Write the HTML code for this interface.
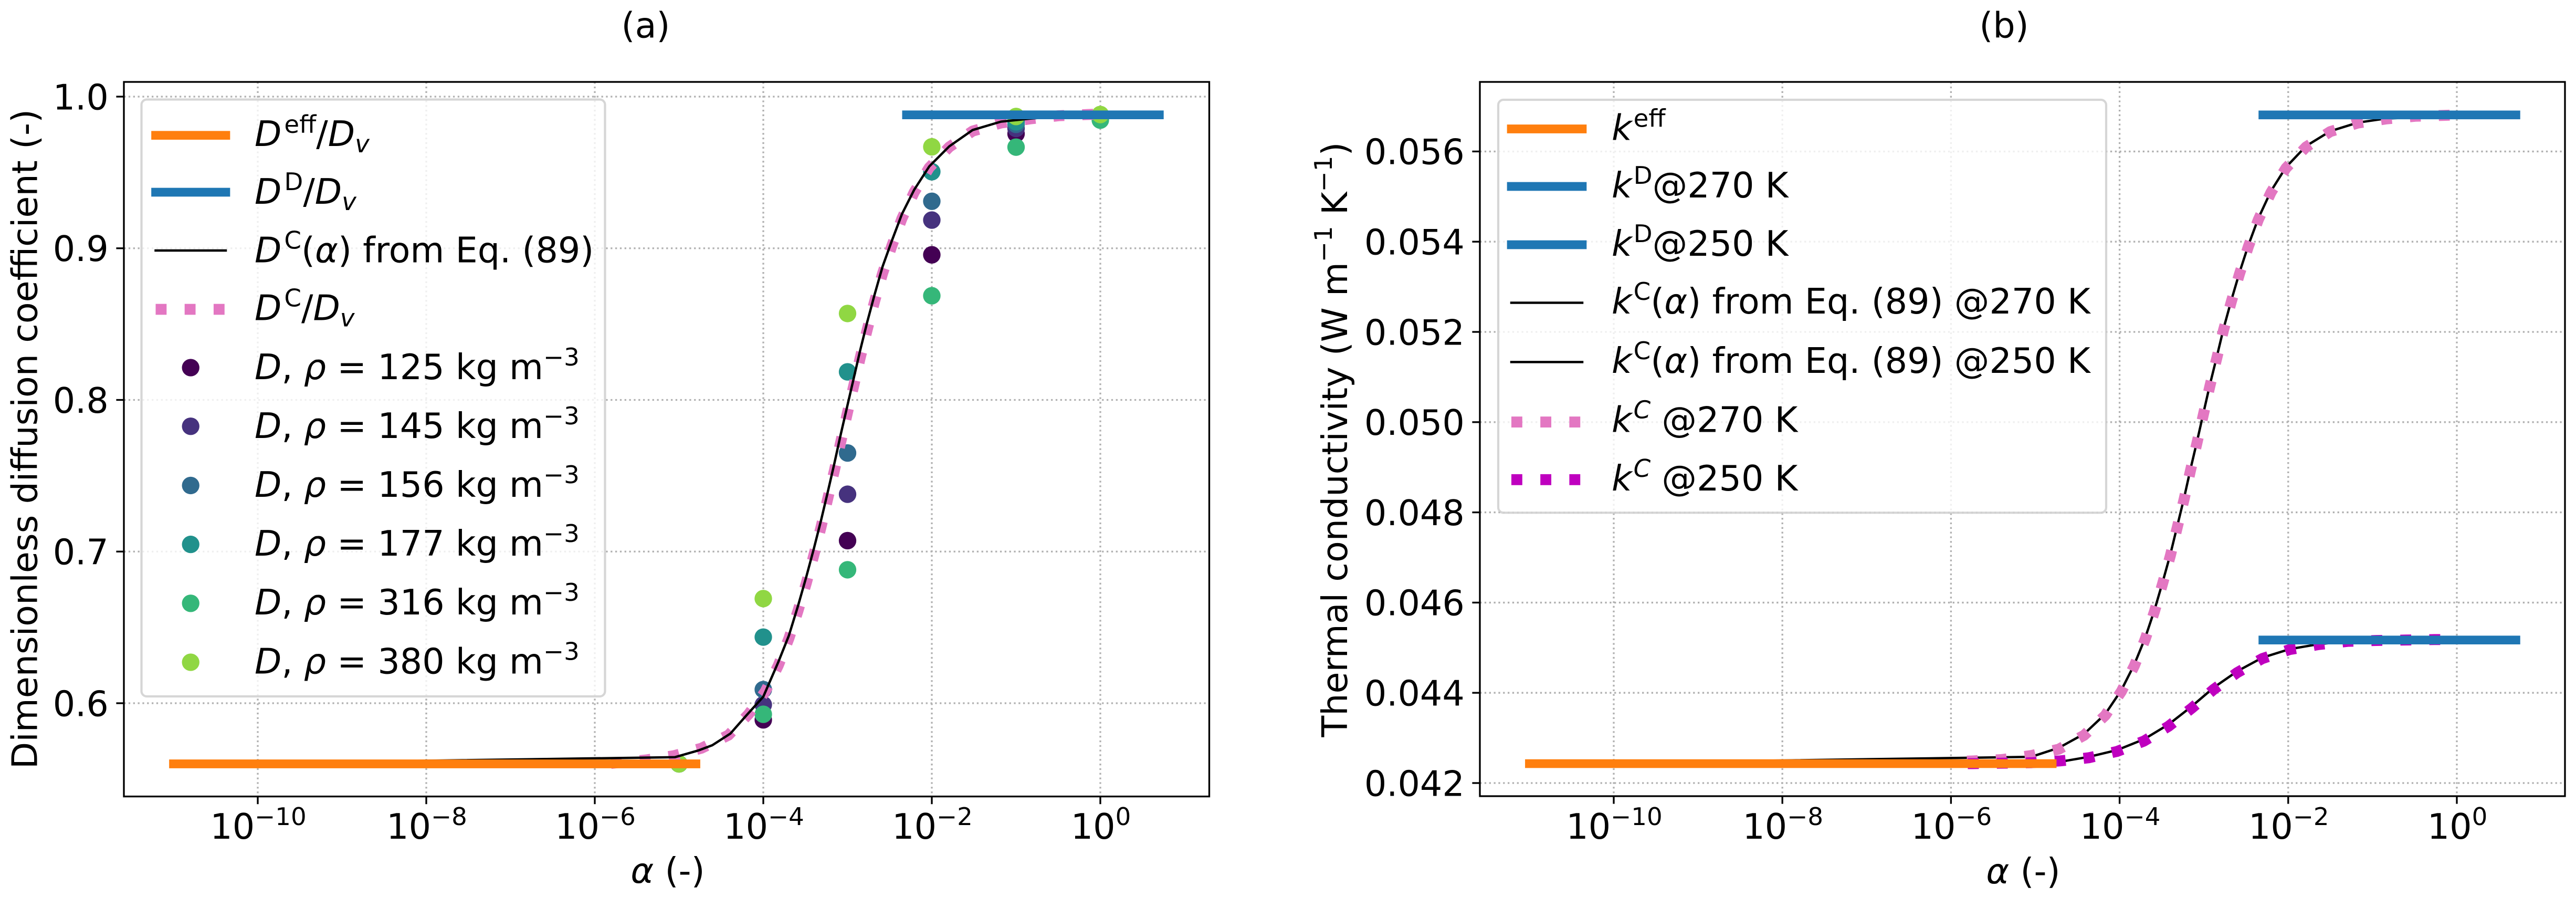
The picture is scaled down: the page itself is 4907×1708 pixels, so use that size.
<!DOCTYPE html>
<html lang="en">
<head>
<meta charset="utf-8">
<title>Diffusion coefficient and thermal conductivity versus alpha</title>
<style>
html,body{margin:0;padding:0;background:#fff;}
svg{display:block;}
text{font-family:"DejaVu Sans","Liberation Sans",sans-serif;font-size:66.7px;fill:#000;}
.i{font-style:italic;}
.s{font-size:46.7px;}
</style>
</head>
<body>
<svg id="figure" xmlns="http://www.w3.org/2000/svg" width="4907" height="1708" viewBox="0 0 4907 1708">
  <rect x="0" y="0" width="4907" height="1708" fill="#ffffff"/>

  <g id="panel-a">
    <text x="1230" y="71.5" text-anchor="middle">(a)</text>
    <g id="a-grid"></g>
    <g id="a-marks"></g>
    <g id="a-legend">
      <rect x="269.5" y="189.5" width="883" height="1136.5" rx="10" ry="10" fill="#ffffff" fill-opacity="0.8" stroke="#cccccc" stroke-opacity="0.8" stroke-width="4.2"/>
      <g>
        <line x1="296.5" x2="430" y1="257.7" y2="257.7" stroke="#ff7f0e" stroke-width="16.67" stroke-linecap="square"/>
        <text x="485" y="277.8"><tspan class="i">D</tspan><tspan class="s" dx="5" dy="-25">eff</tspan><tspan dy="25">/</tspan><tspan class="i">D</tspan><tspan class="s i" dy="12">v</tspan></text>
      </g>
      <g>
        <line x1="296.5" x2="430" y1="366" y2="366" stroke="#1f77b4" stroke-width="16.67" stroke-linecap="square"/>
        <text x="485" y="388"><tspan class="i">D</tspan><tspan class="s" dx="5" dy="-26">D</tspan><tspan dy="26">/</tspan><tspan class="i">D</tspan><tspan class="s i" dy="12">v</tspan></text>
      </g>
      <g>
        <line x1="296.5" x2="430" y1="477" y2="477" stroke="#000000" stroke-width="4.5" stroke-linecap="square"/>
        <text x="485" y="499.4"><tspan class="i">D</tspan><tspan class="s" dx="5" dy="-26">C</tspan><tspan dy="26">(</tspan><tspan class="i">α</tspan><tspan>) from Eq. (89)</tspan></text>
      </g>
      <g>
        <line x1="296.5" x2="430" y1="589" y2="589" stroke="#e377c2" stroke-width="20.83" stroke-dasharray="20.83 34.375"/>
        <text x="485" y="609.6"><tspan class="i">D</tspan><tspan class="s" dx="5" dy="-26">C</tspan><tspan dy="26">/</tspan><tspan class="i">D</tspan><tspan class="s i" dy="12">v</tspan></text>
      </g>
      <g>
        <circle cx="363.2" cy="700" r="16.67" fill="#440154"/>
        <text x="485" y="722"><tspan class="i">D</tspan><tspan>, </tspan><tspan class="i">ρ</tspan><tspan> = 125 kg m</tspan><tspan class="s" dy="-26">−3</tspan></text>
      </g>
      <g>
        <circle cx="363.2" cy="811.7" r="16.67" fill="#46327e"/>
        <text x="485" y="834"><tspan class="i">D</tspan><tspan>, </tspan><tspan class="i">ρ</tspan><tspan> = 145 kg m</tspan><tspan class="s" dy="-26">−3</tspan></text>
      </g>
      <g>
        <circle cx="363.2" cy="924.4" r="16.67" fill="#306a8e"/>
        <text x="485" y="945.8"><tspan class="i">D</tspan><tspan>, </tspan><tspan class="i">ρ</tspan><tspan> = 156 kg m</tspan><tspan class="s" dy="-26">−3</tspan></text>
      </g>
      <g>
        <circle cx="363.2" cy="1036.6" r="16.67" fill="#21918c"/>
        <text x="485" y="1058"><tspan class="i">D</tspan><tspan>, </tspan><tspan class="i">ρ</tspan><tspan> = 177 kg m</tspan><tspan class="s" dy="-26">−3</tspan></text>
      </g>
      <g>
        <circle cx="363.2" cy="1148.8" r="16.67" fill="#35b779"/>
        <text x="485" y="1170"><tspan class="i">D</tspan><tspan>, </tspan><tspan class="i">ρ</tspan><tspan> = 316 kg m</tspan><tspan class="s" dy="-26">−3</tspan></text>
      </g>
      <g>
        <circle cx="363.2" cy="1261" r="16.67" fill="#90d743"/>
        <text x="485" y="1282.4"><tspan class="i">D</tspan><tspan>, </tspan><tspan class="i">ρ</tspan><tspan> = 380 kg m</tspan><tspan class="s" dy="-26">−3</tspan></text>
      </g>
    </g>
    <g id="a-axes"></g>
    <text x="1272" y="1681" text-anchor="middle"><tspan class="i">α</tspan> (-)</text>
    <text text-anchor="middle" transform="translate(70.5 836) rotate(-90)">Dimensionless diffusion coefficient (-)</text>
  </g>

  <g id="panel-b">
    <text x="3817.5" y="71.5" text-anchor="middle">(b)</text>
    <g id="b-grid"></g>
    <g id="b-marks"></g>
    <g id="b-legend">
      <rect x="2854" y="190" width="1158" height="786.3" rx="10" ry="10" fill="#ffffff" fill-opacity="0.8" stroke="#cccccc" stroke-opacity="0.8" stroke-width="4.2"/>
      <g>
        <line x1="2879" x2="3014" y1="245.5" y2="245.5" stroke="#ff7f0e" stroke-width="16.67" stroke-linecap="square"/>
        <text x="3070" y="266.6"><tspan class="i">k</tspan><tspan class="s" dx="3" dy="-25">eff</tspan></text>
      </g>
      <g>
        <line x1="2879" x2="3014" y1="355" y2="355" stroke="#1f77b4" stroke-width="16.67" stroke-linecap="square"/>
        <text x="3070" y="376"><tspan class="i">k</tspan><tspan class="s" dx="3" dy="-26">D</tspan><tspan dy="26">@270 K</tspan></text>
      </g>
      <g>
        <line x1="2879" x2="3014" y1="466" y2="466" stroke="#1f77b4" stroke-width="16.67" stroke-linecap="square"/>
        <text x="3070" y="487"><tspan class="i">k</tspan><tspan class="s" dx="3" dy="-26">D</tspan><tspan dy="26">@250 K</tspan></text>
      </g>
      <g>
        <line x1="2879" x2="3014" y1="576.5" y2="576.5" stroke="#000000" stroke-width="4.5" stroke-linecap="square"/>
        <text x="3070" y="597"><tspan class="i">k</tspan><tspan class="s" dx="3" dy="-26">C</tspan><tspan dy="26">(</tspan><tspan class="i">α</tspan><tspan>) from Eq. (89) @270 K</tspan></text>
      </g>
      <g>
        <line x1="2879" x2="3014" y1="689.4" y2="689.4" stroke="#000000" stroke-width="4.5" stroke-linecap="square"/>
        <text x="3070" y="710"><tspan class="i">k</tspan><tspan class="s" dx="3" dy="-26">C</tspan><tspan dy="26">(</tspan><tspan class="i">α</tspan><tspan>) from Eq. (89) @250 K</tspan></text>
      </g>
      <g>
        <line x1="2879" x2="3014" y1="803.6" y2="803.6" stroke="#e377c2" stroke-width="20.83" stroke-dasharray="20.83 34.375"/>
        <text x="3070" y="822.7"><tspan class="i">k</tspan><tspan class="s i" dx="3" dy="-26">C</tspan><tspan dy="26"> @270 K</tspan></text>
      </g>
      <g>
        <line x1="2879" x2="3014" y1="913.3" y2="913.3" stroke="#bf00bf" stroke-width="20.83" stroke-dasharray="20.83 34.375"/>
        <text x="3070" y="934"><tspan class="i">k</tspan><tspan class="s i" dx="3" dy="-26">C</tspan><tspan dy="26"> @250 K</tspan></text>
      </g>
    </g>
    <g id="b-axes"></g>
    <text x="3854" y="1682" text-anchor="middle"><tspan class="i">α</tspan> (-)</text>
    <text text-anchor="middle" transform="translate(2566 837) rotate(-90)">Thermal conductivity (W m<tspan class="s" dy="-29">−1</tspan><tspan dy="29"> K</tspan><tspan class="s" dy="-29">−1</tspan><tspan dy="29">)</tspan></text>
  </g>
</svg>

<script>
// ---- shared x ticks (log10 of alpha) ----
const xTickExponents = [-10, -8, -6, -4, -2, 0];

// ---- panel (a) values ----
const aYTicks = [0.6, 0.7, 0.8, 0.9, 1.0];
const aYTickLabels = ['0.6', '0.7', '0.8', '0.9', '1.0'];
const aEffLogAlpha = [-11, -4.8];
const aEffValues = [0.56, 0.56];
const aDiluteLogAlpha = [-2.3, 0.7];
const aDiluteValues = [0.988, 0.988];
const aPinkLogAlpha = [-5.9, -5.39, -5.06, -4.735, -4.414, -4.176, -3.977, -3.823, -3.697, -3.589, -3.489, -3.402, -3.315, -3.236, -3.157, -3.082, -3.005, -2.928, -2.849, -2.766, -2.679, -2.584, -2.474, -2.355, -2.21, -2.03, -1.793, -1.515, -1.18, -0.835, -0.494, -0.152, 0];
const aPinkValues = [0.5598, 0.5626, 0.5654, 0.5703, 0.5789, 0.5927, 0.6077, 0.6248, 0.6426, 0.6608, 0.6793, 0.6973, 0.7161, 0.7347, 0.7533, 0.772, 0.7907, 0.8091, 0.828, 0.8465, 0.865, 0.8835, 0.9017, 0.9196, 0.9369, 0.9532, 0.9668, 0.9773, 0.9826, 0.9853, 0.9874, 0.9882, 0.9885];
const aFitLogAlpha = [-11, -5.05, -4.773, -4.605, -4.39, -4.2, -4.0, -3.823, -3.697, -3.589, -3.489, -3.402, -3.315, -3.236, -3.157, -3.082, -3.005, -2.928, -2.849, -2.766, -2.679, -2.584, -2.474, -2.355, -2.21, -2.03, -1.793, -1.515, -1.18, -0.835, -0.494, 0];
const aFitValues = [0.5597, 0.5644, 0.5688, 0.5723, 0.58, 0.592, 0.6043, 0.627, 0.6445, 0.664, 0.6835, 0.7015, 0.7205, 0.739, 0.758, 0.777, 0.7955, 0.814, 0.833, 0.8515, 0.8695, 0.888, 0.905, 0.9225, 0.9385, 0.954, 0.9672, 0.978, 0.9835, 0.9855, 0.987, 0.988];
const scatterLogAlpha = [-5, -4, -3, -2, -1, 0];
const rho125Values = [0.56, 0.589, 0.7072, 0.8957, 0.9755, 0.986];
const rho145Values = [0.56, 0.599, 0.7378, 0.9186, 0.979, 0.986];
const rho156Values = [0.56, 0.609, 0.765, 0.931, 0.9817, 0.986];
const rho177Values = [0.56, 0.6436, 0.8185, 0.9505, 0.9834, 0.986];
const rho316Values = [0.56, 0.5927, 0.688, 0.8687, 0.9667, 0.9845];
const rho380Values = [0.56, 0.669, 0.857, 0.9669, 0.9869, 0.9882];

// ---- panel (b) values ----
const bYTicks = [0.042, 0.044, 0.046, 0.048, 0.050, 0.052, 0.054, 0.056];
const bYTickLabels = ['0.042', '0.044', '0.046', '0.048', '0.050', '0.052', '0.054', '0.056'];
const bEffLogAlpha = [-11, -4.8];
const bEffValues = [0.04243, 0.04243];
const bDiluteLogAlpha = [-2.3, 0.7];
const bDilute270Values = [0.05681, 0.05681];
const bDilute250Values = [0.04517, 0.04517];
const b270LogAlpha = [-5.9, -5.743, -5.397, -5.047, -4.722, -4.42, -4.17, -3.979, -3.825, -3.696, -3.587, -3.49, -3.398, -3.317, -3.235, -3.159, -3.082, -3.006, -2.929, -2.847, -2.766, -2.675, -2.579, -2.473, -2.354, -2.205, -2.027, -1.788, -1.501, -1.174, -0.841, -0.494, -0.149, 0];
const b270Values = [0.04248, 0.04249, 0.04252, 0.04261, 0.04275, 0.04306, 0.0435, 0.04403, 0.0446, 0.04519, 0.0458, 0.04642, 0.04704, 0.04766, 0.04829, 0.04893, 0.04954, 0.05017, 0.0508, 0.05142, 0.05205, 0.05267, 0.05328, 0.05389, 0.05449, 0.05509, 0.05563, 0.0561, 0.05644, 0.05663, 0.05672, 0.05678, 0.0568, 0.05681];
const b250LogAlpha = [-5.9, -5.743, -5.397, -5.052, -4.707, -4.367, -4.031, -3.711, -3.418, -3.144, -2.881, -2.603, -2.306, -1.98, -1.635, -1.295, -0.954, -0.609, -0.268, 0];
const b250Values = [0.04243, 0.04243, 0.04244, 0.04245, 0.04249, 0.04256, 0.0427, 0.04293, 0.04326, 0.04366, 0.04408, 0.04445, 0.04476, 0.04496, 0.04507, 0.04514, 0.04516, 0.04517, 0.04518, 0.04518];
const bFit270LogAlpha = [-11, -5.05, -4.722, -4.42, -4.17, -3.979, -3.825, -3.696, -3.587, -3.49, -3.398, -3.317, -3.235, -3.159, -3.082, -3.006, -2.929, -2.847, -2.766, -2.675, -2.579, -2.473, -2.354, -2.205, -2.027, -1.788, -1.501, -1.174, -0.841, 0];
const bFit270Values = [0.04242, 0.04258, 0.04278, 0.04309, 0.04353, 0.04406, 0.04463, 0.04522, 0.04583, 0.04645, 0.04707, 0.04769, 0.04832, 0.04896, 0.04957, 0.0502, 0.05083, 0.05145, 0.05208, 0.0527, 0.05331, 0.05392, 0.05452, 0.05512, 0.05565, 0.05612, 0.05645, 0.05664, 0.05673, 0.0568];
const bFit250LogAlpha = [-11, -5.05, -4.707, -4.367, -4.031, -3.711, -3.418, -3.144, -2.881, -2.603, -2.306, -1.98, -1.635, -1.295, -0.954, 0];
const bFit250Values = [0.04242, 0.04245, 0.04247, 0.04258, 0.04273, 0.04297, 0.0433, 0.0437, 0.04412, 0.04448, 0.04478, 0.04497, 0.04508, 0.04514, 0.04516, 0.04518];

// ---- axis functions ----
const SVGNS = 'http://www.w3.org/2000/svg';
const aX = function (logAlpha) { return 2096 + 160.5 * logAlpha; };
const aY = function (v) { return 184 + (1 - v) * 2887.5; };
const bX = function (logAlpha) { return 4680 + 160.6 * logAlpha; };
const bY = function (v) { return 1491 - (v - 0.042) * 85900; };

function make(tag, parent) {
  const el = document.createElementNS(SVGNS, tag);
  parent.appendChild(el);
  return el;
}

function pointsOf(xs, ys, fx, fy) {
  return xs.map(function (x, i) { return fx(x).toFixed(2) + ',' + fy(ys[i]).toFixed(2); }).join(' ');
}

// Dash phase so a dash is centred on a curve vertex.
function dashOffsetAt(xs, ys, fx, fy, index) {
  let len = 0;
  for (let i = 1; i <= index; i++) {
    len += Math.hypot(fx(xs[i]) - fx(xs[i - 1]), fy(ys[i]) - fy(ys[i - 1]));
  }
  return 10.415 - len;
}

function drawCurve(parent, xs, ys, fx, fy, color, width) {
  const el = make('polyline', parent);
  el.setAttribute('points', pointsOf(xs, ys, fx, fy));
  el.setAttribute('fill', 'none');
  el.setAttribute('stroke', color);
  el.setAttribute('stroke-width', width);
  el.setAttribute('stroke-linejoin', 'round');
  return el;
}

function drawDotted(parent, xs, ys, fx, fy, color, anchor) {
  const el = drawCurve(parent, xs, ys, fx, fy, color, 20.83);
  el.setAttribute('stroke-dasharray', '20.83 34.375');
  el.setAttribute('stroke-dashoffset', dashOffsetAt(xs, ys, fx, fy, anchor).toFixed(2));
  return el;
}

function drawBand(parent, xs, ys, fx, fy, color) {
  const el = drawCurve(parent, xs, ys, fx, fy, color, 16.67);
  el.setAttribute('stroke-linecap', 'square');
  return el;
}

function drawScatter(parent, xs, ys, fx, fy, color, label) {
  xs.forEach(function (x, i) {
    const c = make('circle', parent);
    c.setAttribute('cx', fx(x).toFixed(2));
    c.setAttribute('cy', fy(ys[i]).toFixed(2));
    c.setAttribute('r', 16.67);
    c.setAttribute('fill', color);
    
    
  });
}

function drawGrid(parent, box, fx, fy, yTicks) {
  xTickExponents.forEach(function (e) {
    const l = make('line', parent);
    l.setAttribute('x1', fx(e));
    l.setAttribute('x2', fx(e));
    l.setAttribute('y1', box.top);
    l.setAttribute('y2', box.bottom);
    l.setAttribute('stroke', '#b0b0b0');
    l.setAttribute('stroke-width', 3.33);
    l.setAttribute('stroke-dasharray', '3.33 5.5');
    
    
  });
  yTicks.forEach(function (v) {
    const l = make('line', parent);
    l.setAttribute('x1', box.left);
    l.setAttribute('x2', box.right);
    l.setAttribute('y1', fy(v));
    l.setAttribute('y2', fy(v));
    l.setAttribute('stroke', '#b0b0b0');
    l.setAttribute('stroke-width', 3.33);
    l.setAttribute('stroke-dasharray', '3.33 5.5');
    
    
  });
}

function drawAxes(parent, box, fx, fy, yTicks, yLabels) {
  xTickExponents.forEach(function (e) {
    const t = make('line', parent);
    t.setAttribute('x1', fx(e));
    t.setAttribute('x2', fx(e));
    t.setAttribute('y1', box.bottom);
    t.setAttribute('y2', box.bottom + 14.6);
    t.setAttribute('stroke', '#000');
    t.setAttribute('stroke-width', 3.33);
    
    
    const label = make('text', parent);
    label.setAttribute('x', fx(e) + 1);
    label.setAttribute('y', 1597);
    label.setAttribute('text-anchor', 'middle');
    
    
    const base = make('tspan', label);
    base.textContent = '10';
    const power = make('tspan', label);
    power.setAttribute('class', 's');
    power.setAttribute('dy', -26);
    power.textContent = (e < 0 ? '\u2212' : '') + Math.abs(e);
  });
  yTicks.forEach(function (v, i) {
    const t = make('line', parent);
    t.setAttribute('x1', box.left - 14.6);
    t.setAttribute('x2', box.left);
    t.setAttribute('y1', fy(v));
    t.setAttribute('y2', fy(v));
    t.setAttribute('stroke', '#000');
    t.setAttribute('stroke-width', 3.33);
    
    
    const label = make('text', parent);
    label.setAttribute('x', box.left - 29.2);
    label.setAttribute('y', fy(v) + 24.3);
    label.setAttribute('text-anchor', 'end');
    label.textContent = yLabels[i];
    
    
  });
  const frame = make('rect', parent);
  frame.setAttribute('x', box.left);
  frame.setAttribute('y', box.top);
  frame.setAttribute('width', box.right - box.left);
  frame.setAttribute('height', box.bottom - box.top);
  frame.setAttribute('fill', 'none');
  frame.setAttribute('stroke', '#000');
  frame.setAttribute('stroke-width', 3.33);
  
  
}

// ---- panel (a) ----
const aBox = { left: 236, right: 2303.5, top: 156, bottom: 1516.6 };
drawGrid(document.getElementById('a-grid'), aBox, aX, aY, aYTicks);
const aMarks = document.getElementById('a-marks');
drawScatter(aMarks, scatterLogAlpha, rho125Values, aX, aY, '#440154', 'point-rho-125');
drawScatter(aMarks, scatterLogAlpha, rho145Values, aX, aY, '#46327e', 'point-rho-145');
drawScatter(aMarks, scatterLogAlpha, rho156Values, aX, aY, '#306a8e', 'point-rho-156');
drawScatter(aMarks, scatterLogAlpha, rho177Values, aX, aY, '#21918c', 'point-rho-177');
drawScatter(aMarks, scatterLogAlpha, rho316Values, aX, aY, '#35b779', 'point-rho-316');
drawScatter(aMarks, scatterLogAlpha, rho380Values, aX, aY, '#90d743', 'point-rho-380');
const aPinkLine = drawDotted(aMarks, aPinkLogAlpha, aPinkValues, aX, aY, '#e377c2', 16);


const aFitLine = drawCurve(aMarks, aFitLogAlpha, aFitValues, aX, aY, '#000000', 4.5);


const aEffLine = drawBand(aMarks, aEffLogAlpha, aEffValues, aX, aY, '#ff7f0e');


const aDiluteLine = drawBand(aMarks, aDiluteLogAlpha, aDiluteValues, aX, aY, '#1f77b4');


drawAxes(document.getElementById('a-axes'), aBox, aX, aY, aYTicks, aYTickLabels);

// ---- panel (b) ----
const bBox = { left: 2819, right: 4886, top: 156, bottom: 1516 };
drawGrid(document.getElementById('b-grid'), bBox, bX, bY, bYTicks);
const bMarks = document.getElementById('b-marks');
const bFit270Line = drawCurve(bMarks, bFit270LogAlpha, bFit270Values, bX, bY, '#000000', 4.5);


const bFit250Line = drawCurve(bMarks, bFit250LogAlpha, bFit250Values, bX, bY, '#000000', 4.5);


const b270Line = drawDotted(bMarks, b270LogAlpha, b270Values, bX, bY, '#e377c2', 16);


const b250Line = drawDotted(bMarks, b250LogAlpha, b250Values, bX, bY, '#bf00bf', 10);


const bEffLine = drawBand(bMarks, bEffLogAlpha, bEffValues, bX, bY, '#ff7f0e');


const bDilute270Line = drawBand(bMarks, bDiluteLogAlpha, bDilute270Values, bX, bY, '#1f77b4');


const bDilute250Line = drawBand(bMarks, bDiluteLogAlpha, bDilute250Values, bX, bY, '#1f77b4');


drawAxes(document.getElementById('b-axes'), bBox, bX, bY, bYTicks, bYTickLabels);
</script>
</body>
</html>
